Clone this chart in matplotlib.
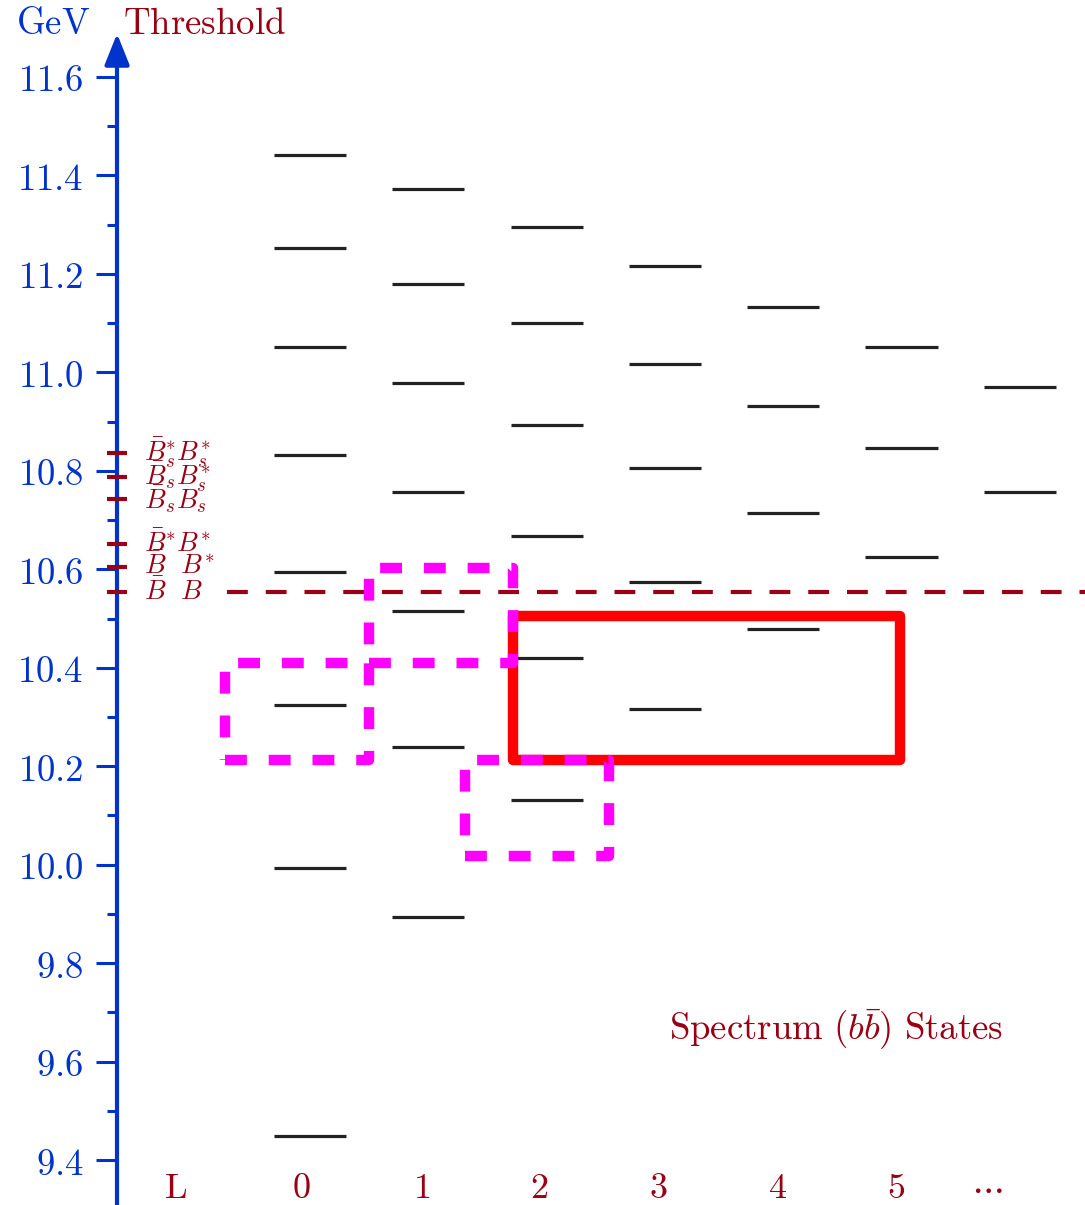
import matplotlib
matplotlib.use("Agg")
import matplotlib.pyplot as plt
from matplotlib.patches import Rectangle
from matplotlib.ticker import FixedLocator, FixedFormatter

plt.rcParams['mathtext.fontset'] = 'cm'

# ---------------- data ----------------
L_values = [0, 1, 2, 3, 4, 5, 6]
levels = {
    0: [9.449, 9.993, 10.324, 10.595, 10.832, 11.052, 11.253, 11.442],
    1: [9.894, 10.239, 10.515, 10.757, 10.978, 11.180, 11.372],
    2: [10.131, 10.420, 10.668, 10.893, 11.100, 11.295],
    3: [10.316, 10.574, 10.806, 11.017, 11.216],
    4: [10.479, 10.714, 10.932, 11.133],
    5: [10.625, 10.846, 11.052],
    6: [10.757, 10.970],
}
threshold_labels = [r"$\bar{B}\ \ B$", r"$\bar{B}\ \ B^{*}$", r"$\bar{B}^{*}B^{*}$",
                    r"$\bar{B}_{s}B_{s}$", r"$\bar{B}_{s}B^{*}_{s}$", r"$\bar{B}^{*}_{s}B^{*}_{s}$"]
threshold_values = [10.554, 10.605, 10.651, 10.743, 10.787, 10.836]
x_labels = ["L", "0", "1", "2", "3", "4", "5", r"\cdots"]
x_label_pos = [-1.14, -0.07, 0.94, 1.94, 2.94, 3.95, 4.95, 5.72]
y_major = [9.4, 9.6, 9.8, 10.0, 10.2, 10.4, 10.6, 10.8, 11.0, 11.2, 11.4, 11.6]
y_minor = [9.5, 9.7, 9.9, 10.1, 10.3, 10.5, 10.7, 10.9, 11.1, 11.3, 11.5]
# highlighted regions: (L_min, L_max, E_min, E_max)
red_box = (1.716, 4.987, 10.213, 10.505)
magenta_boxes = [(-0.718, 0.499, 10.213, 10.410),
                 (0.499, 1.716, 10.410, 10.603),
                 (1.310, 2.527, 10.018, 10.213)]

# ---------------- style ----------------
BLUE = '#0033cc'
DRED = '#990014'
GRAY = '#222222'

fig = plt.figure(figsize=(10.85, 12.05), dpi=100)
ax = fig.add_axes([0, 0, 1, 1])
ax.set_xlim(-2.6205, 6.551)
ax.set_ylim(9.3087, 11.7564)
ax_x = -1.631

for s in ['top', 'right', 'bottom']:
    ax.spines[s].set_visible(False)
ax.spines['left'].set_position(('data', ax_x))
ax.spines['left'].set_color(BLUE)
ax.spines['left'].set_linewidth(3.0)
ax.spines['left'].set_bounds(9.3087, 11.66)
ax.set_xticks([])
ax.yaxis.set_major_locator(FixedLocator(y_major))
ax.yaxis.set_major_formatter(FixedFormatter([r"$%.1f$" % v for v in y_major]))
ax.yaxis.set_minor_locator(FixedLocator(y_minor))
ax.tick_params(axis='y', which='major', length=15, width=2.2, color=BLUE,
               labelcolor=BLUE, labelsize=26.5, pad=9, direction='out')
ax.tick_params(axis='y', which='minor', length=7.5, width=2.2, color=BLUE,
               direction='out')

# arrow head
ax.annotate('', xy=(ax_x, 11.688), xytext=(ax_x, 11.62),
            arrowprops=dict(arrowstyle='-|>,head_length=0.95,head_width=0.38',
                            color=BLUE, lw=3.0, mutation_scale=20, shrinkA=0, shrinkB=0))

# levels
hw = 0.305
for L in L_values:
    for E in levels[L]:
        ax.plot([L - hw, L + hw], [E, E], color=GRAY, lw=2.3, solid_capstyle='butt', zorder=3)

# thresholds
for lab, E in zip(threshold_labels, threshold_values):
    ax.plot([ax_x - 0.085, ax_x + 0.085], [E, E], color=DRED, lw=3, solid_capstyle='butt', zorder=4)
    ax.text(-1.40, E, lab, color=DRED, fontsize=19.5, ha='left', va='center', zorder=4)
ax.plot([-0.70, 6.551], [threshold_values[0]] * 2, color=DRED, lw=3,
        linestyle=(0, (5, 4.3)), dash_capstyle='butt', zorder=4)

# red box
x0, x1, y0, y1 = red_box
ax.add_patch(Rectangle((x0, y0), x1 - x0, y1 - y0, fill=False, edgecolor='#ff0000',
                       lw=7.5, joinstyle='round', zorder=5))
# magenta boxes
for (x0, x1, y0, y1) in magenta_boxes:
    ax.add_patch(Rectangle((x0, y0), x1 - x0, y1 - y0, fill=False, edgecolor='#ff00ff',
                           lw=7.5, linestyle=(0, (2.1, 2.1)), joinstyle='round',
                           capstyle='butt', zorder=6))

# labels
for lab, xp in zip(x_labels, x_label_pos):
    ax.text(xp, 9.343, r"$\mathrm{%s}$" % lab, color=DRED, fontsize=26, ha='center', va='center')

ax.text(-2.17, 11.708, r"$\mathrm{GeV}$", color=BLUE, fontsize=26.5, ha='center', va='center')
ax.text(-1.58, 11.708, r"$\mathrm{Threshold}$", color=DRED, fontsize=26.5, ha='left', va='center')
ax.text(4.45, 9.664, r"$\mathrm{Spectrum}\ (b\bar{b})\ \mathrm{States}$", color=DRED,
        fontsize=26.5, ha='center', va='center')

fig.savefig('out.png', dpi=100)
